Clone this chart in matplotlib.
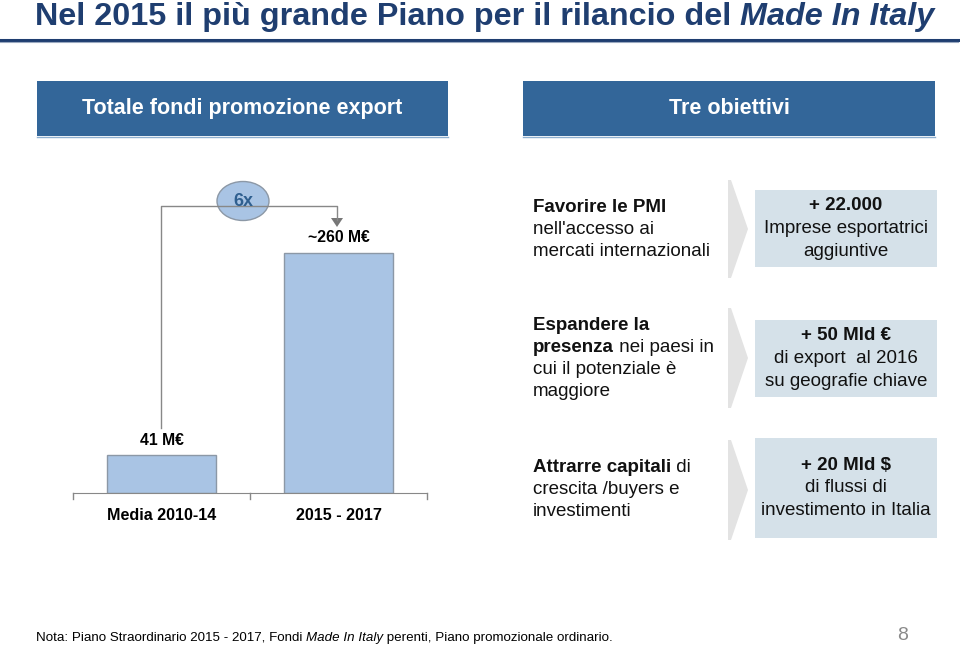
import matplotlib
matplotlib.use("Agg")
import matplotlib.pyplot as plt
from matplotlib.patches import Rectangle, Ellipse, Polygon

plt.rcParams['font.family'] = ['Liberation Sans', 'DejaVu Sans']

# data
periodi = ["Media 2010-14", "2015 - 2017"]
fondi = [41, 260]
etichette = ["41 M€", "~260 M€"]
moltiplicatore = "6x"

obiettivi = [
    [[("Favorire le PMI", True)], [("nell'accesso ai", False)], [("mercati internazionali", False)]],
    [[("Espandere la", True)], [("presenza", True), (" nei paesi in", False)],
     [("cui il potenziale è", False)], [("maggiore", False)]],
    [[("Attrarre capitali", True), (" di", False)], [("crescita /buyers e", False)],
     [("investimenti", False)]],
]
risultati = [
    [("+ 22.000", True), ("Imprese esportatrici", False), ("aggiuntive", False)],
    [("+ 50 Mld €", True), ("di export  al 2016", False), ("su geografie chiave", False)],
    [("+ 20 Mld $", True), ("di flussi di", False), ("investimento in Italia", False)],
]

blu = '#336699'
azzurro = '#a9c4e4'
grigio_box = '#d5e1e9'

fig = plt.figure(figsize=(9.6, 6.49), dpi=100)
ax0 = fig.add_axes([0, 0, 1, 1])
ax0.set_xlim(0, 960)
ax0.set_ylim(649, 0)
ax0.axis('off')
fig.canvas.draw()
r = fig.canvas.get_renderer()
inv = ax0.transData.inverted()


def right_edge(t):
    bb = t.get_window_extent(renderer=r)
    return inv.transform((bb.x1, bb.y0))[0]


# title
title1 = ax0.text(35, 17, "Nel 2015 il più grande Piano per il rilancio del ", fontsize=23.3,
                  fontweight='bold', color='#1f3e70', ha='left', va='center')
ax0.text(right_edge(title1), 17, "Made In Italy", fontsize=23.3, fontweight='bold',
         style='italic', color='#1f3e70', ha='left', va='center')
ax0.plot([0, 958], [40, 40], color='#1f3e70', lw=2.2)
ax0.plot([0, 958], [42, 42], color='#9aa9c0', lw=0.8)

# header boxes
for x0, x1, lab in [(37, 448, "Totale fondi promozione export"), (523, 935, "Tre obiettivi")]:
    ax0.add_patch(Rectangle((x0, 81), x1 - x0, 55, facecolor=blu, edgecolor='none'))
    ax0.plot([x0, x1], [136.5, 136.5], color='#8fb0d0', lw=1)
    ax0.text((x0 + x1) / 2, 108.5, lab, color='white', fontsize=15.5, fontweight='bold',
             ha='center', va='center')

# bar chart
axb = fig.add_axes([73 / 960, (649 - 493) / 649, 354 / 960, 293 / 649])
axb.set_xlim(-0.5, 1.5)
axb.set_ylim(0, 317)
axb.bar(range(len(fondi)), fondi, width=0.62, color=azzurro, edgecolor='#8c98a6', lw=1)
for i, (v, lab) in enumerate(zip(fondi, etichette)):
    axb.text(i, v + 8, lab, ha='center', va='bottom', fontsize=11.3, fontweight='bold')
axb.set_xticks([])
axb.set_yticks([])
for s in ['top', 'right', 'left']:
    axb.spines[s].set_visible(False)
axb.spines['bottom'].set_color('#888888')
axb.patch.set_alpha(0)
for xt in [-0.5, 0.5, 1.5]:
    axb.plot([xt, xt], [0, -7], color='#888888', lw=1, clip_on=False)
for i, p in enumerate(periodi):
    axb.text(i, -16, p, ha='center', va='top', fontsize=11.6, fontweight='bold')

# bracket with multiplier
ax0.plot([161, 161, 337, 337], [428, 206, 206, 220], color='#888888', lw=1)
ax0.add_patch(Polygon([[331, 218], [343, 218], [337, 227]], closed=True,
                      facecolor='#777777', edgecolor='none'))
ax0.add_patch(Ellipse((243, 201), 52, 39, facecolor=azzurro, edgecolor='#8c98a6', lw=1))
ax0.text(243, 201, moltiplicatore, ha='center', va='center', fontsize=13,
         fontweight='bold', color='#2f5f8f')

# objectives rows
righe_y = [[207, 229, 251], [325, 347, 370, 392], [467, 490, 512]]
chevron = [(180, 278), (308, 408), (440, 540)]
box_y = [(190, 267), (320, 397), (438, 538)]
for k in range(3):
    for line, y in zip(obiettivi[k], righe_y[k]):
        x = 533
        for seg, bold in line:
            t = ax0.text(x, y, seg, fontsize=13.5, fontweight='bold' if bold else 'normal',
                         ha='left', va='center', color='#111111')
            x = right_edge(t)
    top, bot = chevron[k]
    mid = (top + bot) / 2
    ax0.add_patch(Polygon([[728, top], [731, top], [748, mid], [731, bot], [728, bot]],
                          closed=True, facecolor='#e3e3e3', edgecolor='none'))
    y0, y1 = box_y[k]
    ax0.add_patch(Rectangle((755, y0), 182, y1 - y0, facecolor=grigio_box, edgecolor='none'))
    cy = (y0 + y1) / 2
    for j, (seg, bold) in enumerate(risultati[k]):
        ax0.text(846, cy + (j - 1) * 22.5, seg, fontsize=13.5, ha='center', va='center',
                 fontweight='bold' if bold else 'normal', color='#111111')

# footer
f1 = ax0.text(36, 638, "Nota: Piano Straordinario 2015 - 2017, Fondi ", fontsize=9.6,
              ha='left', va='center')
f2 = ax0.text(right_edge(f1), 638, "Made In Italy", fontsize=9.6,
              style='italic', ha='left', va='center')
ax0.text(right_edge(f2), 638, " perenti, Piano promozionale ordinario.", fontsize=9.6,
         ha='left', va='center')
ax0.text(903, 636, "8", fontsize=14, color='#8a8a8a', ha='center', va='center')

fig.savefig("out.png", dpi=100)
